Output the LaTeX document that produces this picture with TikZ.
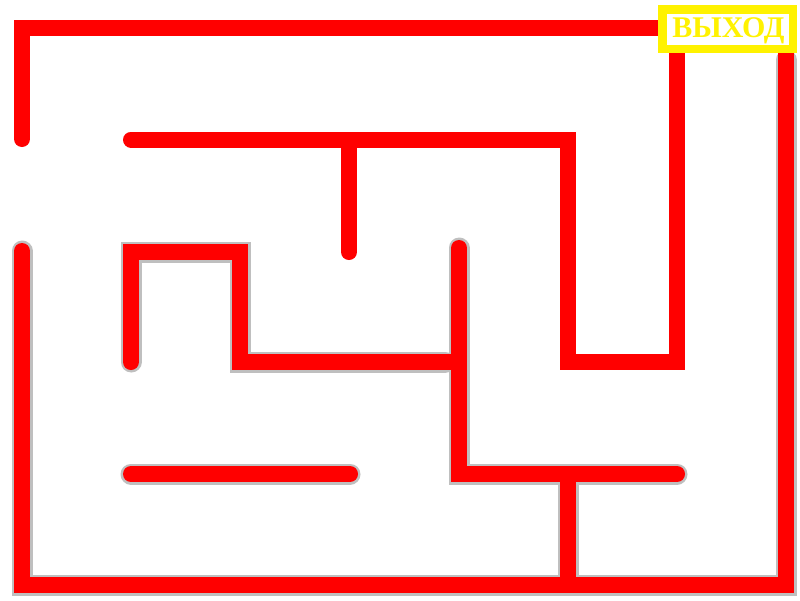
\documentclass[tikz,border=0pt]{standalone}
\usepackage{fontspec}
\newfontfamily\labfont{Liberation Serif}
\begin{document}
\begin{tikzpicture}[x=1pt,y=-1pt,
  wall/.style={draw=red,line width=16pt,line cap=round,line join=miter},
  halo/.style={draw=black!25,line width=21pt,line cap=round,line join=miter}]
\useasboundingbox (0,0) rectangle (800,600);
\fill[white] (0,0) rectangle (800,600);
% grey halo under some walls
\draw[halo] (22,251) -- (22,585) -- (786,585) -- (786,60);
\draw[halo] (131,362) -- (131,252) -- (240,252) -- (240,362) -- (445,362);
\draw[halo] (459,248) -- (459,474) -- (677,474);
\draw[halo,line cap=butt] (568,482) -- (568,578);
\draw[halo] (131,474) -- (350,474);
% red walls
\draw[wall] (22,139) -- (22,28) -- (670,28);
\draw[wall] (677,40) -- (677,362) -- (568,362) -- (568,139.5) -- (131,139.5);
\draw[wall] (349,140) -- (349,252);
\draw[wall] (22,251) -- (22,585) -- (786,585) -- (786,40);
\draw[wall] (131,362) -- (131,252) -- (240,252) -- (240,362) -- (455,362);
\draw[wall] (459,248) -- (459,474) -- (677,474);
\draw[wall] (568,478) -- (568,581);
\draw[wall] (131,474) -- (350,474);
% exit label
\node[draw=yellow,line width=8.5pt,fill=white,inner sep=0pt,
      minimum width=130.5pt,minimum height=39.5pt] (exitbox) at (727.5,29) {};
\node[anchor=base,text=yellow,inner sep=0pt,font=\labfont\bfseries\fontsize{30}{30}\selectfont] (exittext) at (728.5,37) {ВЫХОД};
\end{tikzpicture}
\end{document}
